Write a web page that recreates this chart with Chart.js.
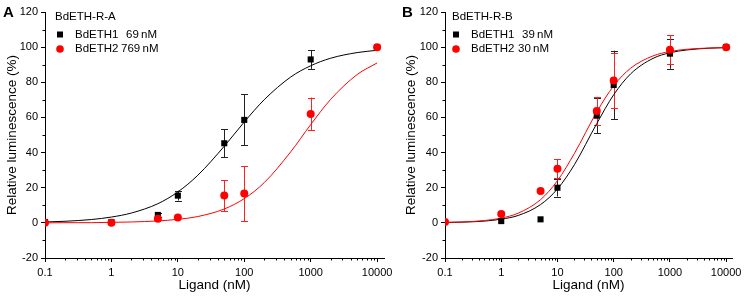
<!DOCTYPE html>
<html><head><meta charset="utf-8">
<script src="https://cdn.jsdelivr.net/npm/chart.js@4/dist/chart.umd.min.js"></script>
<style>
html,body{margin:0;padding:0;background:#fff;width:748px;height:299px;overflow:hidden}
#wa{position:absolute;left:0;top:0;width:400px;height:299px}
#wb{position:absolute;left:400px;top:0;width:348px;height:299px}
</style></head><body>
<div id="wa"><canvas id="ca" width="400" height="299"></canvas></div>
<div id="wb"><canvas id="cb" width="348" height="299"></canvas></div>
<script>
// ---- data ----
const ligand = [0.1, 1, 5, 10, 50, 100, 1000, 10000];
const xTickValues = [0.1, 1, 10, 100, 1000, 10000];
const yTickValues = [-20, 0, 20, 40, 60, 80, 100, 120];

// Panel A: BdETH-R-A
const aEth1    = [0.5, 0.5, 4.5, 15.5, 45.3, 58.6, 93.0, 100];
const aEth1Err = [0, 0, 1, 2.8, 8, 14.5, 5.4, 0];
const aEth2    = [0, 0, 2.4, 3, 15.5, 16.7, 62, 100];
const aEth2Err = [0, 0, 0, 0, 8.8, 15.7, 9.3, 0];

// Panel B: BdETH-R-B
const bEth1    = [0.5, 1, 2, 20, 61, 78.5, 96.3, 100];
const bEth1Err = [0, 0, 0, 5, 10, 19.5, 8.6, 0];
const bEth2    = [0.5, 5, 18.2, 30.8, 63.7, 81, 98.5, 100];
const bEth2Err = [0, 0, 0, 5.5, 8, 15.5, 8.3, 0];

// fitted curves, read at these ligand concentrations
const curveX = [0.1, 0.2, 0.5, 1, 2, 5, 10, 20, 50, 100, 200, 500, 1000, 2000, 5000, 10000];
const aFit1 = [0.5, 0.9, 1.9, 3.3, 5.6, 10.9, 17.6, 27.1, 43.6, 57.4, 70.1, 83.0, 89.4, 93.7, 96.9, 98.2];
const aFit2 = [0.0, 0.1, 0.1, 0.3, 0.5, 1.1, 2.0, 3.6, 7.9, 13.8, 22.9, 40.4, 55.9, 70.3, 84.4, 91.0];
const bFit1 = [0.2, 0.4, 1.0, 2.1, 4.2, 10.4, 19.3, 33.1, 56.5, 72.9, 84.8, 93.6, 96.8, 98.4, 99.4, 99.7];
const bFit2 = [0.3, 0.5, 1.3, 2.7, 5.5, 13.2, 24.0, 39.5, 63.1, 78.0, 88.0, 95.0, 97.5, 98.8, 99.5, 99.8];

const RED = '#ff0000';
const FONT = "'Liberation Sans', Arial, Helvetica, sans-serif";

const pairs = (xs, ys) => xs.map((x, i) => ({x: x, y: ys[i]}));

const errPlugin = {
  id: 'errbars',
  beforeDatasetsDraw(chart, args, opts) {
    const ctx = chart.ctx, xs = chart.scales.x, ys = chart.scales.y;
    ctx.save();
    ctx.lineWidth = 1;
    (opts.sets || []).forEach(s => {
      ctx.strokeStyle = s.color;
      ligand.forEach((x, i) => {
        const e = s.err[i];
        if (!e) return;
        const px = Math.round(xs.getPixelForValue(x)) + 0.5;
        const pt = ys.getPixelForValue(s.y[i] + e);
        const pb = ys.getPixelForValue(s.y[i] - e);
        ctx.beginPath();
        ctx.moveTo(px, pt); ctx.lineTo(px, pb);
        ctx.moveTo(px - 3.5, Math.round(pt) + 0.5); ctx.lineTo(px + 3.5, Math.round(pt) + 0.5);
        ctx.moveTo(px - 3.5, Math.round(pb) + 0.5); ctx.lineTo(px + 3.5, Math.round(pb) + 0.5);
        ctx.stroke();
      });
    });
    ctx.restore();
  }
};

const decoPlugin = {
  id: 'deco',
  afterDraw(chart, args, opts) {
    const ctx = chart.ctx, xs = chart.scales.x, ys = chart.scales.y;
    const ca = chart.chartArea;
    ctx.save();
    ctx.strokeStyle = '#000';
    ctx.lineWidth = 1;
    ctx.beginPath();
    // minor x ticks
    for (let k = -1; k <= 4; k++) {
      for (let m = 2; m <= 9; m++) {
        const v = m * Math.pow(10, k);
        if (v > xs.max) continue;
        const px = Math.round(xs.getPixelForValue(v)) + 0.5;
        ctx.moveTo(px, ca.bottom); ctx.lineTo(px, ca.bottom + 2.5);
      }
    }
    // minor y ticks
    for (let v = -10; v < 120; v += 20) {
      const py = Math.round(ys.getPixelForValue(v)) + 0.5;
      ctx.moveTo(ca.left, py); ctx.lineTo(ca.left - 2.5, py);
    }
    ctx.stroke();

    // panel letter
    ctx.fillStyle = '#000';
    ctx.textBaseline = 'middle';
    ctx.textAlign = 'left';
    ctx.font = 'bold 15px ' + FONT;
    ctx.fillText(opts.letter, opts.letterX, 13);

    // legend
    ctx.font = '11.5px ' + FONT;
    ctx.fillText(opts.title, opts.lx, 17);
    opts.items.forEach((it, i) => {
      const y = 34.5 + i * 14.5;
      ctx.fillStyle = it.color;
      if (it.shape === 'rect') {
        ctx.fillRect(opts.mx - 3, y - 3, 6, 6);
      } else {
        ctx.beginPath(); ctx.arc(opts.mx, y, 3.8, 0, Math.PI * 2); ctx.fill();
      }
      ctx.fillStyle = '#000';
      ctx.fillText(it.name, opts.tx, y);
      ctx.fillText(it.value, it.vx, y);
    });
    ctx.restore();
  }
};

function makeChart(id, d, padRight, titlePadTop, deco) {
  return new Chart(document.getElementById(id), {
    type: 'scatter',
    data: {
      datasets: [
        {label: 'BdETH2', data: pairs(ligand, d.y2), showLine: false,
         pointStyle: 'circle', pointRadius: 4, pointBackgroundColor: RED, pointBorderColor: RED, pointBorderWidth: 0},
        {label: 'BdETH1', data: pairs(ligand, d.y1), showLine: false,
         pointStyle: 'rect', pointRadius: 4.3, pointBackgroundColor: '#000', pointBorderColor: '#000', pointBorderWidth: 0},
        {label: 'fit2', data: pairs(curveX, d.f2), showLine: true, pointRadius: 0,
         borderColor: RED, borderWidth: 1, cubicInterpolationMode: 'monotone', fill: false},
        {label: 'fit1', data: pairs(curveX, d.f1), showLine: true, pointRadius: 0,
         borderColor: '#000', borderWidth: 1, cubicInterpolationMode: 'monotone', fill: false}
      ]
    },
    options: {
      responsive: false,
      animation: false,
      events: [],
      layout: {padding: {left: 0, right: padRight, top: 12, bottom: 0}},
      plugins: {
        legend: {display: false},
        tooltip: {enabled: false},
        errbars: {sets: [
          {y: d.y1, err: d.e1, color: '#222'},
          {y: d.y2, err: d.e2, color: '#ff2020'}
        ]},
        deco: deco
      },
      scales: {
        x: {
          type: 'logarithmic', min: 0.1, max: 12700,
          afterFit(s) { s.height = 41; },
          afterBuildTicks(s) { s.ticks = xTickValues.map(v => ({value: v, major: true})); },
          border: {display: true, color: '#000', width: 1},
          grid: {display: true, drawOnChartArea: false, drawTicks: true, tickLength: 4, tickColor: '#000', tickWidth: 1},
          ticks: {
            autoSkip: false, maxRotation: 0, padding: 4, color: '#000',
            font: {family: FONT, size: 11},
            callback: v => (v < 1 ? String(v) : String(Math.round(v)))
          },
          title: {display: true, text: 'Ligand (nM)', color: '#000',
                  font: {family: FONT, size: 13.5}, padding: {top: 0, bottom: 6}}
        },
        y: {
          type: 'linear', min: -20, max: 120,
          afterFit(s) { s.width = 45; },
          afterBuildTicks(s) { s.ticks = yTickValues.map(v => ({value: v})); },
          border: {display: true, color: '#000', width: 1},
          grid: {display: true, drawOnChartArea: false, drawTicks: true, tickLength: 4, tickColor: '#000', tickWidth: 1},
          ticks: {padding: 3, color: '#000', font: {family: FONT, size: 11}},
          title: {display: true, text: 'Relative luminescence (%)', color: '#000',
                  font: {family: FONT, size: 13.5}, padding: {top: titlePadTop, bottom: 0}}
        }
      }
    },
    plugins: [errPlugin, decoPlugin]
  });
}

makeChart('ca', {y1: aEth1, e1: aEth1Err, y2: aEth2, e2: aEth2Err, f1: aFit1, f2: aFit2}, 16, 4,
  {letter: 'A', letterX: 3, title: 'BdETH-R-A', lx: 55, mx: 60, tx: 75,
   items: [{name: 'BdETH1', value: '69\u2009nM', vx: 126, color: '#000', shape: 'rect'},
           {name: 'BdETH2', value: '769\u2009nM', vx: 121, color: RED, shape: 'circle'}]});

makeChart('cb', {y1: bEth1, e1: bEth1Err, y2: bEth2, e2: bEth2Err, f1: bFit1, f2: bFit2}, 16, 3,
  {letter: 'B', letterX: 2, title: 'BdETH-R-B', lx: 52, mx: 56, tx: 71,
   items: [{name: 'BdETH1', value: '39\u2009nM', vx: 122, color: '#000', shape: 'rect'},
           {name: 'BdETH2', value: '30\u2009nM', vx: 118, color: RED, shape: 'circle'}]});
</script>
</body></html>
